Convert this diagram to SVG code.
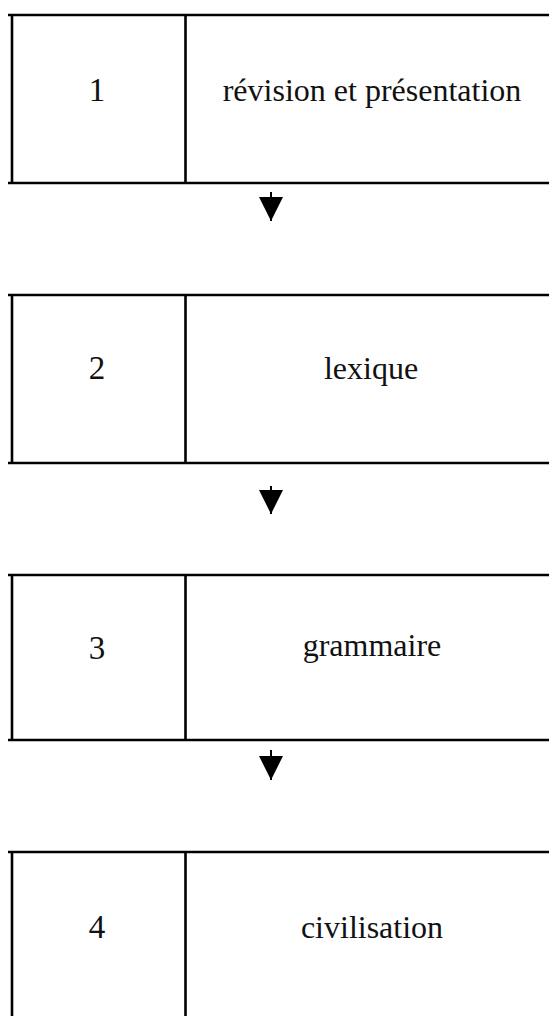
<svg xmlns="http://www.w3.org/2000/svg" width="549" height="1016" viewBox="0 0 549 1016">
  <style>
    .rule { stroke: #000; stroke-width: 2.6; fill: none; }
    .num { font-family: "Liberation Serif", "Times New Roman", serif; font-size: 33px; fill: #111; text-anchor: middle; }
    .lbl { font-family: "Liberation Serif", "Times New Roman", serif; font-size: 32px; fill: #111; text-anchor: middle; }
    .stem { stroke: #000; stroke-width: 2; }
  </style>
  <defs>
    <marker id="head" markerUnits="userSpaceOnUse" markerWidth="25" markerHeight="25" refX="24" refY="12" orient="auto">
      <path d="M0,0 L24,12 L0,24 Z" fill="#000"/>
    </marker>
  </defs>
  <rect width="549" height="1016" fill="#fff"/>

  <!-- step 1 -->
  <g id="step1">
    <path class="rule" d="M8,15 H560 M8,183 H560 M12,15 V183 M185.5,15 V183"/>
    <text class="num" x="97" y="101">1</text>
    <text class="lbl" x="372" y="101">révision et présentation</text>
  </g>

  <!-- step 2 -->
  <g id="step2">
    <path class="rule" d="M8,295 H560 M8,463 H560 M12,295 V463 M185.5,295 V463"/>
    <text class="num" x="97" y="379">2</text>
    <text class="lbl" x="371" y="379">lexique</text>
  </g>

  <!-- step 3 -->
  <g id="step3">
    <path class="rule" d="M8,575 H560 M8,740 H560 M12,575 V740 M185.5,575 V740"/>
    <text class="num" x="97" y="659">3</text>
    <text class="lbl" x="372" y="656">grammaire</text>
  </g>

  <!-- step 4 -->
  <g id="step4">
    <path class="rule" d="M8,852 H560 M12,852 V1020 M185.5,852 V1020"/>
    <text class="num" x="97" y="938">4</text>
    <text class="lbl" x="372" y="938">civilisation</text>
  </g>

  <!-- arrows between steps -->
  <g id="connectors">
    <line class="stem" x1="271" y1="192" x2="271" y2="221" marker-end="url(#head)"/>
    <line class="stem" x1="271" y1="486" x2="271" y2="514" marker-end="url(#head)"/>
    <line class="stem" x1="271" y1="750" x2="271" y2="780" marker-end="url(#head)"/>
  </g>
</svg>
